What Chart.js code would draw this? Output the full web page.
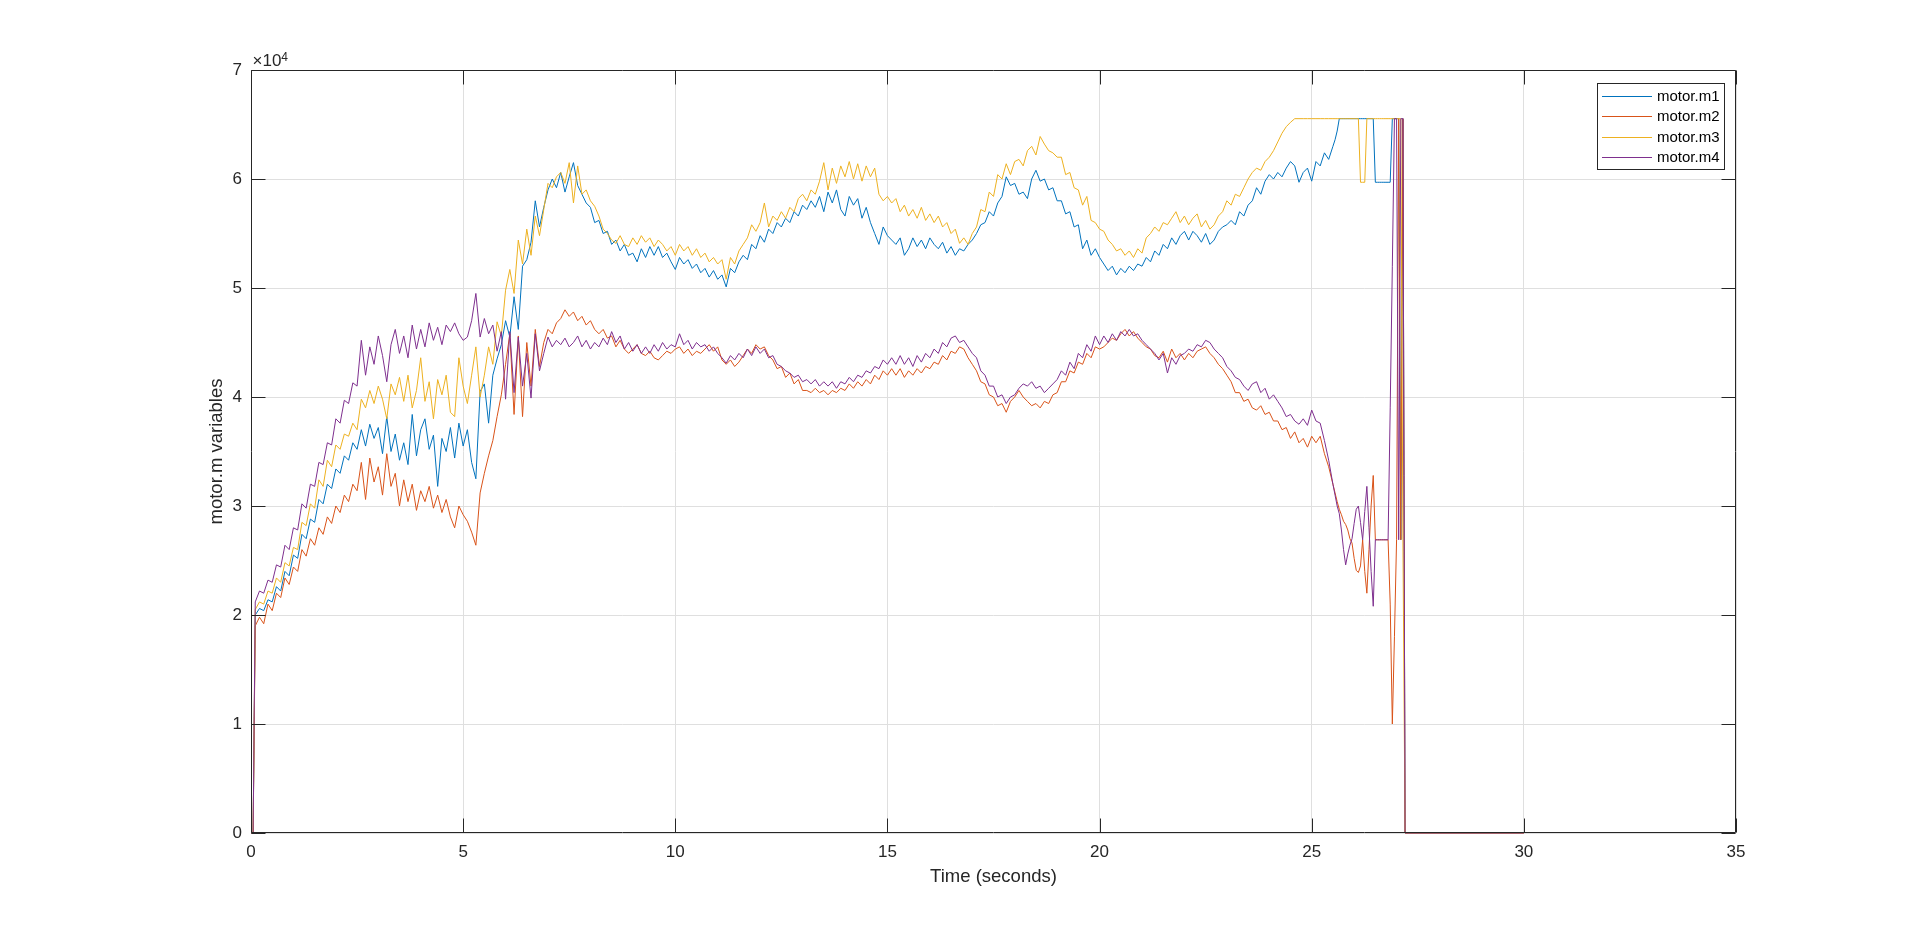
<!DOCTYPE html>
<html>
<head>
<meta charset="utf-8">
<title>motor.m variables</title>
<script src="https://cdn.jsdelivr.net/npm/chart.js@4.4.1/dist/chart.umd.min.js"></script>
<style>
  html, body { margin: 0; padding: 0; background: #fff; }
  #wrap { width: 1920px; height: 936px; }
</style>
</head>
<body>
<div id="wrap"><canvas id="chartMotor" width="1920" height="936"></canvas></div>
<script>
// sample times (s)
const timeS = [
  0, 0.05,
  0.1, 0.2, 0.3, 0.4, 0.5, 0.6, 0.7, 0.8, 0.9, 1.0,
  1.1, 1.2, 1.3, 1.4, 1.5, 1.6, 1.7, 1.8, 1.9, 2.0,
  2.1, 2.2, 2.3, 2.4, 2.5, 2.6, 2.7, 2.8, 2.9, 3.0,
  3.1, 3.2, 3.3, 3.4, 3.5, 3.6, 3.7, 3.8, 3.9, 4.0,
  4.1, 4.2, 4.3, 4.4, 4.5, 4.6, 4.7, 4.8, 4.9, 5.0,
  5.1, 5.2, 5.3, 5.4, 5.5, 5.6, 5.7, 5.8, 5.9, 6.0,
  6.1, 6.2, 6.3, 6.4, 6.5, 6.6, 6.7, 6.8, 6.9, 7.0,
  7.1, 7.2, 7.3, 7.4, 7.5, 7.6, 7.7, 7.8, 7.9, 8.0,
  8.1, 8.2, 8.3, 8.4, 8.5, 8.6, 8.7, 8.8, 8.9, 9.0,
  9.1, 9.2, 9.3, 9.4, 9.5, 9.6, 9.7, 9.8, 9.9, 10.0,
  10.1, 10.2, 10.3, 10.4, 10.5, 10.6, 10.7, 10.8, 10.9, 11.0,
  11.1, 11.2, 11.3, 11.4, 11.5, 11.6, 11.7, 11.8, 11.9, 12.0,
  12.1, 12.2, 12.3, 12.4, 12.5, 12.6, 12.7, 12.8, 12.9, 13.0,
  13.1, 13.2, 13.3, 13.4, 13.5, 13.6, 13.7, 13.8, 13.9, 14.0,
  14.1, 14.2, 14.3, 14.4, 14.5, 14.6, 14.7, 14.8, 14.9, 15.0,
  15.1, 15.2, 15.3, 15.4, 15.5, 15.6, 15.7, 15.8, 15.9, 16.0,
  16.1, 16.2, 16.3, 16.4, 16.5, 16.6, 16.7, 16.8, 16.9, 17.0,
  17.1, 17.2, 17.3, 17.4, 17.5, 17.6, 17.7, 17.8, 17.9, 18.0,
  18.1, 18.2, 18.3, 18.4, 18.5, 18.6, 18.7, 18.8, 18.9, 19.0,
  19.1, 19.2, 19.3, 19.4, 19.5, 19.6, 19.7, 19.8, 19.9, 20.0,
  20.1, 20.2, 20.3, 20.4, 20.5, 20.6, 20.7, 20.8, 20.9, 21.0,
  21.1, 21.2, 21.3, 21.4, 21.5, 21.6, 21.7, 21.8, 21.9, 22.0,
  22.1, 22.2, 22.3, 22.4, 22.5, 22.6, 22.7, 22.8, 22.9, 23.0,
  23.1, 23.2, 23.3, 23.4, 23.5, 23.6, 23.7, 23.8, 23.9, 24.0,
  24.1, 24.2, 24.3, 24.4, 24.5, 24.6, 24.7, 24.8, 24.9, 25.0,
  25.1, 25.2, 25.3, 25.4, 25.5,
  25.55, 25.6, 25.65, 25.7, 25.75, 25.8, 25.85, 25.9, 25.95, 26.0,
  26.05, 26.1, 26.15, 26.2, 26.25, 26.3, 26.35, 26.4, 26.45, 26.5,
  26.55, 26.6, 26.65, 26.7, 26.75, 26.8, 26.85, 26.9, 26.95, 27.0,
  27.05, 27.1, 27.15, 27.2,
  30.0
];

// values in units of 1e4 (same as the y tick labels)
const motorM1 = [
  0, 0,
  2.00, 2.06, 2.04, 2.14, 2.12, 2.26, 2.22, 2.40, 2.36, 2.55,
  2.52, 2.74, 2.70, 2.88, 2.85, 3.06, 3.02, 3.20, 3.16, 3.34,
  3.30, 3.46, 3.42, 3.58, 3.52, 3.70, 3.55, 3.75, 3.62, 3.72,
  3.48, 3.82, 3.50, 3.66, 3.42, 3.58, 3.38, 3.84, 3.46, 3.70,
  3.80, 3.52, 3.65, 3.18, 3.62, 3.50, 3.72, 3.44, 3.76, 3.55,
  3.70, 3.40, 3.25, 4.05, 4.12, 3.76, 4.20, 4.35, 4.48, 4.70,
  4.55, 4.92, 4.62, 5.20, 5.26, 5.42, 5.80, 5.56, 5.74, 5.90,
  6.00, 5.92, 6.06, 5.88, 6.02, 6.15, 5.94, 5.86, 5.78, 5.74,
  5.60, 5.62, 5.50, 5.52, 5.40, 5.44, 5.34, 5.40, 5.30, 5.32,
  5.24, 5.36, 5.28, 5.38, 5.30, 5.38, 5.28, 5.32, 5.24, 5.17,
  5.28, 5.22, 5.26, 5.18, 5.22, 5.14, 5.18, 5.10, 5.16, 5.08,
  5.12, 5.01, 5.18, 5.14, 5.24, 5.30, 5.26, 5.40, 5.36, 5.48,
  5.42, 5.54, 5.50, 5.60, 5.56, 5.64, 5.60, 5.70, 5.66, 5.76,
  5.72, 5.80, 5.74, 5.84, 5.70, 5.88, 5.78, 5.90, 5.72, 5.66,
  5.84, 5.76, 5.82, 5.64, 5.74, 5.60, 5.50, 5.40, 5.56, 5.48,
  5.44, 5.40, 5.46, 5.30, 5.36, 5.46, 5.38, 5.44, 5.36, 5.46,
  5.40, 5.36, 5.42, 5.32, 5.38, 5.30, 5.36, 5.34, 5.40, 5.44,
  5.50, 5.58, 5.60, 5.70, 5.66, 5.78, 5.84, 6.02, 5.94, 5.96,
  5.86, 5.88, 5.82, 6.00, 6.08, 5.98, 6.00, 5.90, 5.92, 5.80,
  5.80, 5.68, 5.70, 5.56, 5.58, 5.36, 5.44, 5.30, 5.36, 5.28,
  5.22, 5.16, 5.20, 5.12, 5.18, 5.14, 5.20, 5.16, 5.22, 5.20,
  5.28, 5.24, 5.34, 5.30, 5.40, 5.36, 5.46, 5.40, 5.48, 5.52,
  5.44, 5.52, 5.48, 5.42, 5.50, 5.40, 5.44, 5.52, 5.56, 5.58,
  5.62, 5.58, 5.70, 5.66, 5.76, 5.80, 5.92, 5.86, 5.98, 6.04,
  6.00, 6.06, 6.02, 6.10, 6.16, 6.12, 5.97, 6.06, 6.10, 5.98,
  6.16, 6.12, 6.24, 6.18, 6.30,
  6.36, 6.44, 6.5535, 6.5535, 6.5535, 6.5535, 6.5535, 6.5535, 6.5535, 6.5535,
  6.5535, 6.5535, 6.5535, 6.5535, 6.5535, 6.5535, 6.5535, 6.5535, 6.5535, 5.97,
  5.97, 5.97, 5.97, 5.97, 5.97, 5.97, 5.97, 6.5535, 6.5535, 6.5535,
  6.5535, 2.69, 6.5535, 0,
  0
];

const motorM2 = [
  0, 0,
  1.90, 1.98, 1.92, 2.10, 2.04, 2.20, 2.16, 2.34, 2.28, 2.44,
  2.40, 2.60, 2.54, 2.70, 2.64, 2.80, 2.74, 2.90, 2.84, 3.00,
  2.94, 3.10, 3.04, 3.20, 3.14, 3.40, 3.06, 3.44, 3.22, 3.36,
  3.10, 3.48, 3.18, 3.30, 3.00, 3.24, 3.04, 3.20, 2.96, 3.14,
  3.04, 3.18, 2.98, 3.10, 2.94, 3.06, 2.90, 2.80, 3.00, 2.92,
  2.86, 2.76, 2.64, 3.12, 3.30, 3.46, 3.60, 3.82, 4.02, 4.30,
  4.58, 3.84, 4.56, 3.82, 4.50, 4.10, 4.62, 4.28, 4.50, 4.62,
  4.58, 4.68, 4.72, 4.80, 4.74, 4.78, 4.70, 4.74, 4.66, 4.70,
  4.62, 4.58, 4.62, 4.54, 4.56, 4.46, 4.52, 4.44, 4.40, 4.44,
  4.48, 4.40, 4.38, 4.42, 4.36, 4.34, 4.38, 4.42, 4.40, 4.44,
  4.46, 4.40, 4.44, 4.38, 4.42, 4.40, 4.44, 4.48, 4.42, 4.46,
  4.34, 4.30, 4.34, 4.28, 4.32, 4.38, 4.44, 4.40, 4.48, 4.44,
  4.46, 4.38, 4.34, 4.26, 4.28, 4.18, 4.22, 4.12, 4.16, 4.06,
  4.06, 4.04, 4.08, 4.04, 4.06, 4.02, 4.06, 4.04, 4.08, 4.06,
  4.12, 4.08, 4.14, 4.10, 4.16, 4.12, 4.20, 4.16, 4.24, 4.20,
  4.26, 4.20, 4.26, 4.18, 4.24, 4.20, 4.26, 4.22, 4.28, 4.26,
  4.32, 4.30, 4.38, 4.34, 4.42, 4.40, 4.46, 4.44, 4.36, 4.30,
  4.24, 4.14, 4.12, 4.02, 4.00, 3.92, 3.94, 3.86, 3.96, 4.00,
  4.06, 4.00, 3.96, 3.92, 3.94, 3.90, 3.96, 3.94, 4.02, 4.04,
  4.14, 4.14, 4.24, 4.22, 4.32, 4.30, 4.40, 4.36, 4.46, 4.44,
  4.46, 4.50, 4.54, 4.52, 4.58, 4.62, 4.56, 4.60, 4.54, 4.50,
  4.46, 4.44, 4.38, 4.36, 4.42, 4.32, 4.44, 4.36, 4.40, 4.34,
  4.40, 4.36, 4.42, 4.44, 4.46, 4.40, 4.36, 4.30, 4.26, 4.20,
  4.14, 4.04, 4.04, 3.96, 3.98, 3.90, 3.88, 3.92, 3.84, 3.86,
  3.78, 3.78, 3.70, 3.72, 3.62, 3.68, 3.58, 3.62, 3.54, 3.64,
  3.58, 3.64, 3.48, 3.36, 3.20,
  3.12, 3.04, 2.97, 2.92, 2.86, 2.83, 2.78, 2.70, 2.66, 2.52,
  2.41, 2.39, 2.45, 2.69, 2.40, 2.20, 2.60, 3.00, 3.28, 2.69,
  2.69, 2.69, 2.69, 2.69, 2.69, 2.69, 2.10, 1.00, 1.80, 2.69,
  6.5535, 2.69, 6.5535, 0,
  0
];

const motorM3 = [
  0, 0,
  2.05, 2.12, 2.10, 2.22, 2.20, 2.34, 2.30, 2.48, 2.45, 2.62,
  2.60, 2.85, 2.82, 3.02, 2.98, 3.24, 3.18, 3.42, 3.36, 3.56,
  3.52, 3.66, 3.64, 3.76, 3.70, 3.98, 3.90, 4.06, 3.94, 4.10,
  3.98, 3.80, 4.12, 4.02, 4.18, 3.96, 4.20, 3.90, 4.06, 4.36,
  3.96, 4.14, 3.80, 4.16, 4.02, 4.20, 3.86, 3.82, 4.36, 4.10,
  3.94, 4.20, 4.46, 4.00, 4.20, 4.46, 4.30, 4.69, 4.56, 4.98,
  5.17, 4.95, 5.44, 5.22, 5.54, 5.30, 5.66, 5.48, 5.72, 5.96,
  5.92, 6.02, 6.06, 5.96, 6.15, 5.78, 6.12, 5.86, 5.90, 5.80,
  5.75, 5.66, 5.54, 5.50, 5.44, 5.41, 5.48, 5.40, 5.38, 5.46,
  5.40, 5.48, 5.42, 5.46, 5.38, 5.44, 5.40, 5.34, 5.38, 5.30,
  5.40, 5.34, 5.38, 5.30, 5.36, 5.28, 5.32, 5.24, 5.28, 5.22,
  5.26, 5.08, 5.28, 5.22, 5.34, 5.40, 5.46, 5.58, 5.52, 5.60,
  5.78, 5.56, 5.66, 5.62, 5.70, 5.64, 5.74, 5.70, 5.82, 5.86,
  5.80, 5.90, 5.86, 5.98, 6.15, 5.90, 6.10, 5.96, 6.12, 6.02,
  6.16, 6.00, 6.14, 5.98, 6.12, 6.02, 6.10, 5.86, 5.80, 5.84,
  5.78, 5.82, 5.70, 5.76, 5.66, 5.72, 5.64, 5.74, 5.62, 5.68,
  5.60, 5.66, 5.56, 5.60, 5.50, 5.54, 5.41, 5.46, 5.40, 5.50,
  5.56, 5.72, 5.70, 5.88, 5.84, 6.04, 6.00, 6.14, 6.04, 6.16,
  6.18, 6.12, 6.26, 6.30, 6.22, 6.39, 6.32, 6.26, 6.24, 6.20,
  6.20, 6.04, 6.06, 5.92, 5.90, 5.76, 5.84, 5.62, 5.60, 5.54,
  5.52, 5.44, 5.40, 5.34, 5.36, 5.30, 5.34, 5.28, 5.36, 5.32,
  5.46, 5.50, 5.56, 5.52, 5.60, 5.58, 5.64, 5.70, 5.60, 5.66,
  5.58, 5.64, 5.68, 5.56, 5.62, 5.54, 5.58, 5.66, 5.70, 5.80,
  5.76, 5.86, 5.84, 5.92, 6.00, 6.06, 6.10, 6.08, 6.16, 6.20,
  6.26, 6.34, 6.42, 6.48, 6.52, 6.5535, 6.5535, 6.5535, 6.5535, 6.5535,
  6.5535, 6.5535, 6.5535, 6.5535, 6.5535,
  6.5535, 6.5535, 6.5535, 6.5535, 6.5535, 6.5535, 6.5535, 6.5535, 6.5535, 6.5535,
  6.5535, 6.5535, 5.97, 5.97, 5.97, 6.5535, 6.5535, 6.5535, 6.5535, 6.5535,
  6.5535, 6.5535, 6.5535, 6.5535, 6.5535, 6.5535, 6.5535, 6.5535, 6.5535, 6.5535,
  6.5535, 6.5535, 2.69, 0,
  0
];

const motorM4 = [
  0, 0,
  2.12, 2.22, 2.20, 2.32, 2.30, 2.46, 2.44, 2.64, 2.60, 2.80,
  2.78, 3.02, 2.98, 3.20, 3.18, 3.40, 3.38, 3.58, 3.56, 3.80,
  3.76, 3.97, 3.94, 4.13, 4.10, 4.52, 4.20, 4.46, 4.30, 4.56,
  4.38, 4.14, 4.48, 4.62, 4.40, 4.56, 4.36, 4.66, 4.44, 4.62,
  4.46, 4.68, 4.52, 4.64, 4.48, 4.66, 4.60, 4.68, 4.58, 4.52,
  4.55, 4.70, 4.95, 4.55, 4.72, 4.58, 4.66, 4.42, 4.60, 3.98,
  4.60, 4.04, 4.55, 4.10, 4.40, 3.99, 4.58, 4.24, 4.40, 4.55,
  4.46, 4.52, 4.48, 4.54, 4.46, 4.50, 4.56, 4.46, 4.52, 4.44,
  4.50, 4.46, 4.54, 4.48, 4.60, 4.50, 4.56, 4.44, 4.50, 4.42,
  4.48, 4.40, 4.46, 4.40, 4.48, 4.42, 4.50, 4.44, 4.48, 4.46,
  4.58, 4.48, 4.52, 4.44, 4.50, 4.46, 4.48, 4.42, 4.46, 4.40,
  4.36, 4.31, 4.38, 4.34, 4.40, 4.36, 4.44, 4.38, 4.46, 4.40,
  4.44, 4.36, 4.38, 4.30, 4.28, 4.24, 4.22, 4.18, 4.20, 4.14,
  4.16, 4.12, 4.16, 4.10, 4.14, 4.10, 4.14, 4.08, 4.14, 4.12,
  4.18, 4.14, 4.20, 4.18, 4.24, 4.22, 4.28, 4.26, 4.34, 4.30,
  4.36, 4.30, 4.38, 4.30, 4.36, 4.28, 4.38, 4.32, 4.40, 4.36,
  4.44, 4.40, 4.50, 4.46, 4.54, 4.56, 4.50, 4.52, 4.46, 4.40,
  4.36, 4.24, 4.20, 4.10, 4.10, 4.00, 4.02, 3.94, 4.00, 4.02,
  4.08, 4.12, 4.10, 4.14, 4.08, 4.10, 4.04, 4.08, 4.12, 4.16,
  4.24, 4.20, 4.32, 4.26, 4.40, 4.36, 4.48, 4.42, 4.56, 4.48,
  4.56, 4.50, 4.58, 4.52, 4.60, 4.56, 4.62, 4.56, 4.58, 4.52,
  4.48, 4.44, 4.40, 4.34, 4.40, 4.22, 4.36, 4.30, 4.38, 4.40,
  4.44, 4.42, 4.48, 4.46, 4.52, 4.50, 4.44, 4.40, 4.36, 4.28,
  4.24, 4.18, 4.16, 4.10, 4.06, 4.12, 4.14, 4.04, 4.08, 3.98,
  4.02, 3.96, 3.90, 3.82, 3.84, 3.78, 3.75, 3.80, 3.74, 3.88,
  3.78, 3.76, 3.60, 3.42, 3.20,
  3.10, 3.00, 2.93, 2.78, 2.60, 2.46, 2.56, 2.64, 2.70, 2.84,
  2.97, 3.00, 2.85, 2.69, 2.95, 3.18, 2.80, 2.40, 2.08, 2.69,
  2.69, 2.69, 2.69, 2.69, 2.69, 2.69, 3.90, 5.20, 6.5535, 6.5535,
  2.69, 6.5535, 6.5535, 0,
  0
];

const seriesNames = ["motor.m1", "motor.m2", "motor.m3", "motor.m4"];
const seriesColors = ["#0072BD", "#D95319", "#EDB120", "#7E2F8E"];
const seriesValues = [motorM1, motorM2, motorM3, motorM4];

const xTicks = [0, 5, 10, 15, 20, 25, 30, 35];
const yTicks = [0, 1, 2, 3, 4, 5, 6, 7];

const axisColor = "#262626";
const gridColor = "#dfdfdf";
const tickLen = 14;
const fontFamily = "'Liberation Sans', Arial, Helvetica, sans-serif";

Chart.defaults.font.family = fontFamily;

// MATLAB style box, inward ticks, exponent and legend
const matlabAxes = {
    id: "matlabAxes",
    afterDatasetsDraw(chart) {
        const { ctx, chartArea: area, scales } = chart;
        const left = Math.round(area.left) + 0.5;
        const right = Math.round(area.right) - 0.5;
        const top = Math.round(area.top) + 0.5;
        const bottom = Math.round(area.bottom) - 0.5;

        ctx.save();
        ctx.strokeStyle = axisColor;
        ctx.lineWidth = 1;
        ctx.beginPath();
        ctx.rect(left, top, right - left, bottom - top);
        xTicks.forEach((v) => {
            const px = Math.round(scales.x.getPixelForValue(v)) + 0.5;
            ctx.moveTo(px, bottom);
            ctx.lineTo(px, bottom - tickLen);
            ctx.moveTo(px, top);
            ctx.lineTo(px, top + tickLen);
        });
        yTicks.forEach((v) => {
            const py = Math.round(scales.y.getPixelForValue(v)) + 0.5;
            ctx.moveTo(left, py);
            ctx.lineTo(left + tickLen, py);
            ctx.moveTo(right, py);
            ctx.lineTo(right - tickLen, py);
        });
        ctx.stroke();

        // x10^4 above the y axis
        ctx.fillStyle = axisColor;
        ctx.textAlign = "left";
        ctx.textBaseline = "alphabetic";
        ctx.font = "17px " + fontFamily;
        ctx.fillText("×10", left + 1, top - 4.5);
        const w = ctx.measureText("×10").width;
        ctx.font = "12px " + fontFamily;
        ctx.fillText("4", left + 1 + w, top - 10);

        // legend box
        const box = { x: Math.round(area.right) - 12 - 127, y: Math.round(area.top) + 13, w: 127, h: 86 };
        ctx.fillStyle = "#ffffff";
        ctx.fillRect(box.x, box.y, box.w, box.h);
        ctx.strokeStyle = axisColor;
        ctx.strokeRect(box.x + 0.5, box.y + 0.5, box.w, box.h);
        ctx.font = "15px " + fontFamily;
        ctx.textBaseline = "middle";
        chart.data.datasets.forEach((ds, i) => {
            const ly = Math.round(box.y + 12.5 + i * 20.6) + 0.5;
            ctx.strokeStyle = ds.borderColor;
            ctx.beginPath();
            ctx.moveTo(box.x + 5, ly);
            ctx.lineTo(box.x + 55, ly);
            ctx.stroke();
            ctx.fillStyle = "#000000";
            ctx.fillText(ds.label, box.x + 60, ly);
        });
        ctx.restore();
    },
};

const ctx = document.getElementById("chartMotor");

new Chart(ctx, {
    type: "line",
    data: {
        datasets: seriesNames.map((name, i) => ({
            label: name,
            data: timeS.map((t, k) => ({ x: t, y: seriesValues[i][k] })),
            borderColor: seriesColors[i],
            backgroundColor: seriesColors[i],
            borderWidth: 1,
            pointRadius: 0,
            tension: 0,
            fill: false,
            clip: false,
            order: seriesNames.length - i, // motor.m4 on top
        })),
    },
    options: {
        responsive: false,
        animation: false,
        devicePixelRatio: 1,
        events: [],
        layout: { padding: { top: 70, right: 184, bottom: 0, left: 0 } },
        plugins: {
            legend: { display: false },
            tooltip: { enabled: false },
        },
        scales: {
            x: {
                type: "linear",
                min: 0,
                max: 35,
                afterBuildTicks: (scale) => {
                    scale.ticks = xTicks.map((v) => ({ value: v }));
                },
                afterFit: (scale) => {
                    scale.height = 103;
                },
                grid: { color: gridColor, lineWidth: 1, drawTicks: false },
                border: { display: false },
                ticks: {
                    color: axisColor,
                    font: { size: 17 },
                    padding: 9,
                    maxRotation: 0,
                    autoSkip: false,
                },
                title: {
                    display: true,
                    text: "Time (seconds)",
                    color: axisColor,
                    font: { size: 18.5 },
                    padding: { top: 0, bottom: 48 },
                },
            },
            y: {
                type: "linear",
                min: 0,
                max: 7,
                afterBuildTicks: (scale) => {
                    scale.ticks = yTicks.map((v) => ({ value: v }));
                },
                afterFit: (scale) => {
                    scale.width = 251;
                },
                grid: { color: gridColor, lineWidth: 1, drawTicks: false },
                border: { display: false },
                ticks: {
                    color: axisColor,
                    font: { size: 17 },
                    padding: 9,
                    autoSkip: false,
                },
                title: {
                    display: true,
                    text: "motor.m variables",
                    color: axisColor,
                    font: { size: 18.5 },
                    padding: { top: 206, bottom: 0 },
                },
            },
        },
    },
    plugins: [matlabAxes],
});
</script>
</body>
</html>
